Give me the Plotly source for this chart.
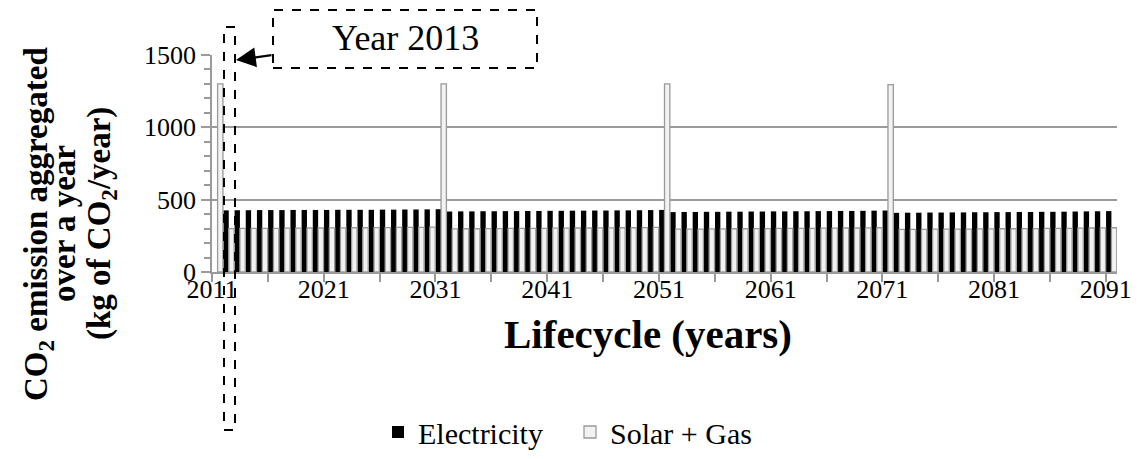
import plotly.graph_objects as go

# ---- data ----
years = list(range(2011, 2092))
electricity = [0,
    426, 427, 427, 428, 428, 428, 429, 429, 429, 429, 430, 430, 430, 430, 431, 431, 432, 432, 433, 434,
    418, 419, 419, 420, 420, 421, 421, 422, 422, 423, 423, 424, 424, 425, 425, 426, 426, 427, 428, 429,
    414, 415, 415, 416, 416, 417, 417, 418, 418, 419, 419, 420, 420, 421, 421, 422, 422, 423, 424, 425,
    409, 410, 410, 411, 411, 412, 412, 413, 413, 414, 414, 415, 415, 416, 416, 417, 418, 419, 420, 421]
solar_gas = [1300,
    300, 301, 301, 302, 302, 303, 303, 304, 304, 305, 305, 306, 306, 307, 307, 308, 308, 309, 310, 1300,
    298, 299, 299, 300, 300, 301, 301, 302, 302, 303, 303, 304, 304, 305, 305, 306, 306, 307, 308, 1300,
    296, 297, 297, 298, 298, 299, 299, 300, 300, 301, 301, 302, 302, 303, 303, 304, 304, 305, 306, 1295,
    294, 295, 295, 296, 296, 297, 297, 298, 298, 299, 299, 300, 300, 301, 301, 302, 303, 304, 305, 306]
label_years = years[::10]
tick_labels = [str(y) for y in label_years]
y_ticks = [0, 500, 1000, 1500]
y_title_lines = ["<b>CO<sub>2</sub> emission aggregated</b>",
                 "<b>over a year</b>",
                 "<b>(kg of CO<sub>2</sub>/year)</b>"]

FONT = "Liberation Serif, Times New Roman, serif"
GRID = "#9a9a9a"

W, H = 1142, 459
L, R, T, B = 212, 1117, 55, 272
pw, ph = R - L, B - T


def px(x):
    return (x - L) / pw


def py(y):
    return (B - y) / ph


fig = go.Figure()
fig.add_trace(go.Bar(x=years, y=electricity, name="Electricity",
                     marker=dict(color="black", line=dict(width=0))))
fig.add_trace(go.Bar(x=years, y=solar_gas, name="Solar + Gas",
                     marker=dict(color="#f2f2f2", line=dict(color=GRID, width=1.3))))

fig.update_layout(
    width=W, height=H,
    margin=dict(l=L, r=W - R, t=T, b=H - B, pad=0, autoexpand=False),
    paper_bgcolor="white", plot_bgcolor="white",
    barmode="group", bargap=0.04, bargroupgap=0,
    font=dict(family=FONT, size=26, color="black"),
    showlegend=True,
    legend=dict(orientation="h", x=px(378), y=py(432), xanchor="left", yanchor="middle",
                font=dict(family=FONT, size=30, color="black"), itemwidth=30, tracegroupgap=0,
                entrywidth=147, entrywidthmode="pixels",
                bgcolor="rgba(0,0,0,0)"),
    xaxis=dict(
        range=[years[0] - 0.5, years[-1] + 0.5],
        tickmode="array",
        tickvals=[y - 0.5 for y in label_years],
        ticktext=tick_labels,
        ticks="outside", ticklen=8, tickcolor=GRID, tickwidth=1.5,
        showline=True, linecolor=GRID, linewidth=1.5,
        showgrid=False, zeroline=False, automargin=False,
        ticklabelstandoff=-15,
        tickfont=dict(family=FONT, size=26, color="black"),
        minor=dict(tickmode="array", tickvals=[y - 0.5 for y in years[::5]],
                   ticks="outside", ticklen=8, tickcolor=GRID, tickwidth=1.5, showgrid=False),
    ),
    yaxis=dict(
        range=[0, 1500],
        tickmode="array", tickvals=y_ticks,
        ticks="outside", ticklen=9, tickcolor=GRID, tickwidth=1.5,
        showline=True, linecolor=GRID, linewidth=1.5,
        showgrid=True, gridcolor=GRID, gridwidth=1.5,
        zeroline=False, automargin=False,
        tickfont=dict(family=FONT, size=26, color="black"),
        minor=dict(dtick=100, ticks="outside", ticklen=6, tickcolor=GRID, tickwidth=1.5, showgrid=False),
    ),
)

annotations = []
for line, xc in zip(y_title_lines, [38, 64, 101]):
    annotations.append(dict(text=line, x=px(xc), y=py(224), xref="paper", yref="paper", textangle=-90,
                            showarrow=False, xanchor="center", yanchor="middle",
                            font=dict(family=FONT, size=33, color="black")))
annotations += [
    dict(text="<b>Lifecycle (years)</b>", x=px(648), y=py(334), xref="paper", yref="paper",
         showarrow=False, xanchor="center", yanchor="middle", font=dict(family=FONT, size=41, color="black")),
    dict(text="Year 2013", x=px(405), y=py(38), xref="paper", yref="paper",
         showarrow=False, xanchor="center", yanchor="middle", font=dict(family=FONT, size=36, color="black")),
    dict(text="", x=px(236), y=py(60), xref="paper", yref="paper",
         showarrow=True, ax=37, ay=-5, axref="pixel", ayref="pixel",
         arrowhead=2, arrowsize=1.8, arrowwidth=2.2, arrowcolor="black"),
]
fig.update_layout(annotations=annotations)

shapes = [
    dict(type="rect", xref="paper", yref="paper", x0=px(273), x1=px(537), y0=py(68), y1=py(10),
         line=dict(color="black", width=2, dash="dash")),
    dict(type="rect", xref="paper", yref="paper", x0=px(224), x1=px(235), y0=py(430), y1=py(27),
         line=dict(color="black", width=2, dash="dash")),
]
fig.update_layout(shapes=shapes)

fig.write_html("out.html", config={"displayModeBar": False},
               post_script="document.body.style.margin='0px';")
